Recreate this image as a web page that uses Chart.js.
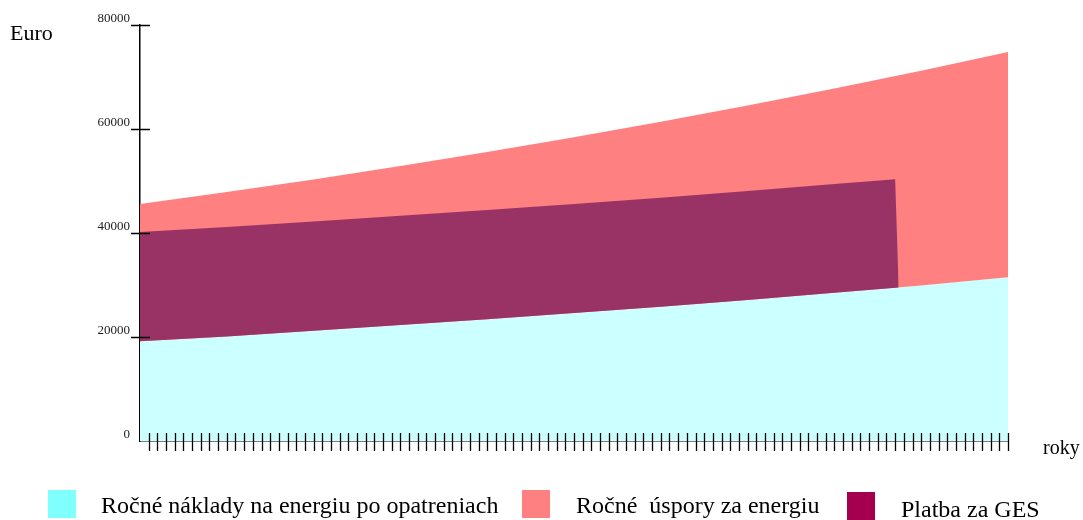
<!DOCTYPE html>
<html>
<head>
<meta charset="utf-8">
<script src="https://cdn.jsdelivr.net/npm/chart.js@4.4.1/dist/chart.umd.min.js"></script>
<style>
  body { margin: 0; background: #fff; }
  #wrap { position: relative; width: 1083px; height: 520px; font-family: "Liberation Serif", "Times New Roman", serif; }
  #graf { position: absolute; left: 0; top: 0; }
  .popis { position: absolute; font-size: 20px; line-height: 20px; color: #000; white-space: pre; }
  .leg { font-size: 24px; line-height: 24px; }
  .stvorec { position: absolute; width: 28px; height: 28px; }
</style>
</head>
<body>
<div id="wrap">
  <canvas id="graf" width="1083" height="520"></canvas>
  <div class="popis" style="left:10px; top:22px; font-size:22px; line-height:22px;">Euro</div>
  <div class="popis" style="left:1043px; top:437px;">roky</div>
  <div id="legenda"></div>
</div>
<script>
// Hodnoty odcitane z grafu (Euro), os x = roky
const roky = [0, 10, 20, 30, 40, 50, 60, 70, 80, 90, 100];
const nakladyPoOpatreniach = [19200, 20100, 21200, 22300, 23400, 24600, 25800, 27100, 28500, 29900, 31500];
const usporyHorna = [45600, 47900, 50300, 52900, 55600, 58400, 61400, 64500, 67800, 71200, 74800];
const rokyGES = [0, 10, 20, 30, 40, 50, 60, 70, 80, 87, 87.4];
const platbaGESHorna = [40200, 41150, 42200, 43300, 44400, 45600, 46800, 48100, 49400, 50350, 29700];
const osY = [0, 20000, 40000, 60000, 80000];

const nazvy = ['Ročné náklady na energiu po opatreniach', 'Ročné  úspory za energiu', 'Platba za GES'];
const farbyPlocha = ['#ccffff', '#ff8080', '#993366'];
const farbyLegenda = ['#80ffff', '#ff8080', '#a50050'];

// pozicie legendy (stvorec x, y, text x, y)
const legendaPoz = [
  [48, 490, 101, 493],
  [522, 490, 576, 493],
  [847, 492, 901, 497]
];

const body = (xs, ys) => xs.map((x, i) => ({ x: x, y: ys[i] }));

// Znacky na osiach (cez os aj pod nou)
const znacky = {
  id: 'znacky',
  afterDraw(chart) {
    const { ctx, scales: { x, y }, chartArea: a } = chart;
    ctx.save();
    ctx.strokeStyle = '#000';
    ctx.lineWidth = 1.3;
    ctx.beginPath();
    x.ticks.forEach(t => {
      if (t.value === 0) return;
      const px = Math.round(x.getPixelForValue(t.value)) + 0.5;
      ctx.moveTo(px, a.bottom - 8);
      ctx.lineTo(px, a.bottom + 10);
    });
    y.ticks.forEach(t => {
      if (t.value === 0) return;
      const py = Math.round(y.getPixelForValue(t.value)) + 0.5;
      ctx.moveTo(a.left - 9, py);
      ctx.lineTo(a.left + 10, py);
    });
    ctx.stroke();
    ctx.restore();
  }
};

Chart.defaults.font.family = '"Liberation Serif", "Times New Roman", serif';

const graf = new Chart(document.getElementById('graf'), {
  type: 'line',
  data: {
    datasets: [
      {
        label: nazvy[0],
        data: body(roky, nakladyPoOpatreniach),
        backgroundColor: farbyPlocha[0],
        fill: 'origin',
        order: 3
      },
      {
        label: nazvy[1],
        data: body(roky, usporyHorna),
        backgroundColor: farbyPlocha[1],
        fill: 0,
        order: 2
      },
      {
        label: nazvy[2],
        data: body(rokyGES, platbaGESHorna),
        backgroundColor: farbyPlocha[2],
        fill: 0,
        order: 1
      }
    ]
  },
  options: {
    responsive: false,
    animation: false,
    parsing: false,
    elements: {
      line: { borderWidth: 0, tension: 0 },
      point: { radius: 0 }
    },
    layout: { padding: { top: 25, right: 75, bottom: 0, left: 0 } },
    plugins: {
      legend: { display: false },
      tooltip: { enabled: false }
    },
    scales: {
      x: {
        type: 'linear',
        min: 0,
        max: 100,
        ticks: { display: false, stepSize: 1 },
        grid: { display: false, drawTicks: false },
        border: { display: true, color: '#000', width: 1.5 },
        afterFit(s) { s.height = 79; }
      },
      y: {
        min: 0,
        max: 80000,
        afterBuildTicks(s) { s.ticks = osY.map(v => ({ value: v })); },
        ticks: {
          color: '#222',
          font: { size: 13 },
          padding: 10,
          labelOffset: -6,
          callback: v => String(v)
        },
        grid: { display: false, drawTicks: false },
        border: { display: true, color: '#000', width: 1.5 },
        afterFit(s) { s.width = 140; }
      }
    }
  },
  plugins: [znacky]
});

// Legenda pod grafom
const legenda = document.getElementById('legenda');
nazvy.forEach((n, i) => {
  const p = legendaPoz[i];
  const s = document.createElement('div');
  s.className = 'stvorec';
  s.style.left = p[0] + 'px';
  s.style.top = p[1] + 'px';
  s.style.background = farbyLegenda[i];
  legenda.appendChild(s);
  const t = document.createElement('div');
  t.className = 'popis leg';
  t.style.left = p[2] + 'px';
  t.style.top = p[3] + 'px';
  t.textContent = n;
  legenda.appendChild(t);
});
</script>
</body>
</html>
